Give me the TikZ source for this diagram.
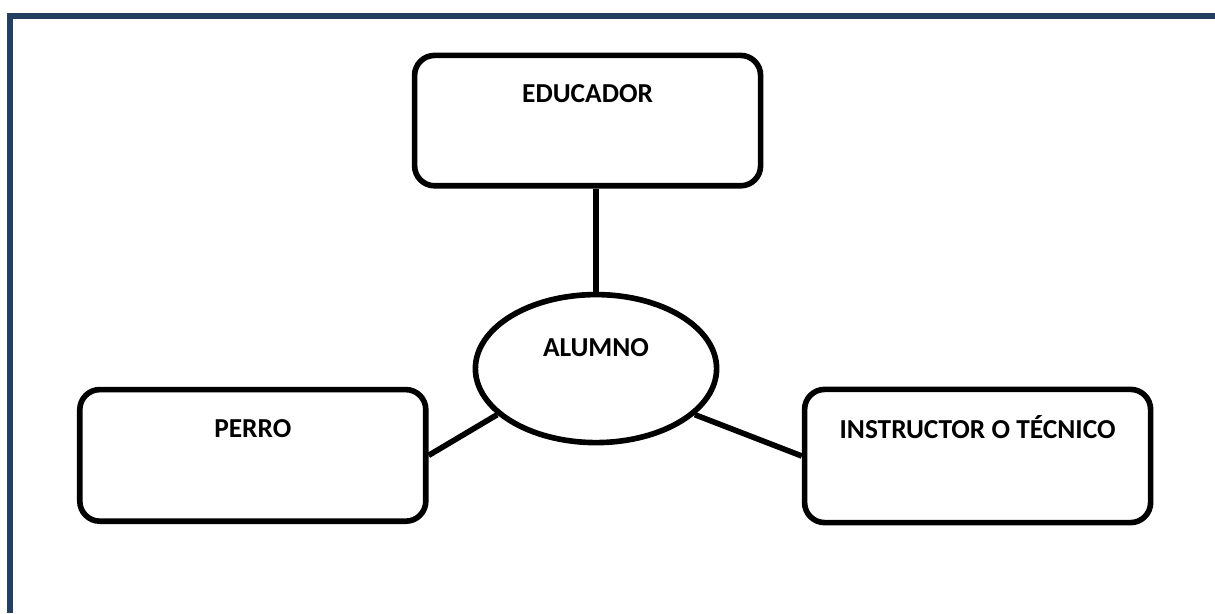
\documentclass[tikz,border=0pt]{standalone}
\usepackage{fontspec}
\setmainfont{Carlito}
\usetikzlibrary{shapes.geometric}

\definecolor{azulborde}{RGB}{36,63,96}

\tikzset{
    caja/.style = {draw, line width=4pt, rounded corners=0.5cm, inner sep=0pt,
        minimum width=8.65cm, minimum height=3.3cm,
        font=\bfseries\fontsize{19.5}{22}\selectfont, text height=0.43cm, text depth=1.32cm},
    elipse/.style = {draw, ellipse, line width=4pt, inner sep=0pt,
        minimum width=6.03cm, minimum height=3.7cm,
        font=\bfseries\fontsize{19.5}{22}\selectfont, text height=0.43cm, text depth=1.02cm},
    linea/.style = {line width=4pt}
}

\begin{document}
\begin{tikzpicture}
    \useasboundingbox (0,0) rectangle (30.375,15.325);

    % Frame
    \draw[azulborde, line width=0.15cm] (0.25,0) -- (0.25,14.925) -- (30.375,14.925);

    % Boxes
    \node[caja, minimum height=3.26cm] (educador) at (14.69,12.31) {EDUCADOR};
    \node[caja, minimum height=3.29cm] (perro) at (6.32,3.94) {PERRO};
    \node[caja, minimum height=3.33cm] (instructor) at (24.44,3.925) {INSTRUCTOR O TÉCNICO};

    % Centre
    \node[elipse] (alumno) at (14.9,6.11) {ALUMNO};

    % Links
    \draw[linea] (alumno.north) -- (alumno.north |- educador.south);
    \draw[linea] (perro.east) -- (alumno.205);
    \draw[linea] (alumno.335) -- (instructor.west);

\end{tikzpicture}
\end{document}
